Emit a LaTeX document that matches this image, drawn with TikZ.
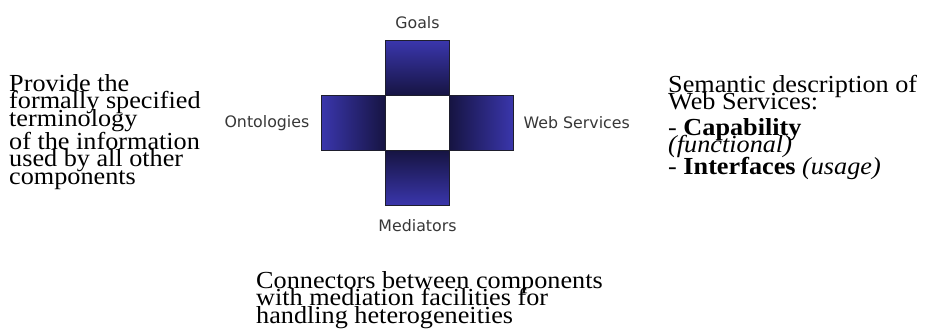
\documentclass[tikz,border=0pt]{standalone}
\usepackage{fontspec}
\setmainfont[FakeStretch=1.07]{Liberation Serif}
\newfontfamily\partfont{DejaVu Sans}
\usetikzlibrary{positioning}

\definecolor{crosslight}{RGB}{58,54,172}
\definecolor{crossdark}{RGB}{22,20,66}
\definecolor{crossedge}{RGB}{30,30,45}
\definecolor{partgray}{RGB}{55,55,55}

\tikzset{
  crossbox/.style={draw=crossedge, line width=0.6pt, minimum width=64pt,
    minimum height=55pt, inner sep=0pt, outer sep=0pt},
  partlabel/.style={font=\partfont\fontsize{15.8}{16}\selectfont,
    text=partgray, inner sep=0pt},
  noteline/.style={font=\fontsize{24.5}{17.5}\selectfont,
    inner sep=0pt, anchor=base west},
}

\begin{document}
\begin{tikzpicture}[x=1pt,y=1pt,yscale=-1]
\useasboundingbox (0,0) rectangle (926,335);

% the four parts round the core
\node[crossbox, fill=white] (core) at (417.5,123) {};
\node[crossbox, top color=crosslight, bottom color=crossdark,
  above=0pt of core] (goalsbox) {};
\node[crossbox, top color=crossdark, bottom color=crosslight,
  below=0pt of core] (mediatorsbox) {};
\node[crossbox, left color=crosslight, right color=crossdark,
  left=0pt of core] (ontologiesbox) {};
\node[crossbox, left color=crossdark, right color=crosslight,
  right=0pt of core] (webservicesbox) {};
\draw[crossedge, line width=0.6pt] (core.north west) rectangle (core.south east);

% part names
\node[partlabel, above=12pt of goalsbox] (goals) {Goals};
\node[partlabel, below=14pt of mediatorsbox] (mediators) {Mediators};
\node[partlabel, left=12pt of ontologiesbox] (ontologies) {Ontologies};
\node[partlabel, right=10pt of webservicesbox] (webservices) {Web Services};

% notes, one node per line
\foreach \ybase/\txt [count=\i] in {91/Provide the, 108.5/formally specified,
    126/terminology, 149/of the information, 166.5/used by all other,
    184/components}
  \node[noteline] (ontologynote-\i) at (9,\ybase) {\txt};
\foreach \ybase/\txt [count=\i] in {92/Semantic description of,
    109/Web Services:, 135/- \textbf{Capability}, 152/\textit{(functional)},
    174/- \textbf{Interfaces} \textit{(usage)}}
  \node[noteline] (servicenote-\i) at (668,\ybase) {\txt};
\foreach \ybase/\txt [count=\i] in {288/Connectors between components,
    305.5/with mediation facilities for, 323/handling heterogeneities}
  \node[noteline] (mediatornote-\i) at (256,\ybase) {\txt};
\end{tikzpicture}
\end{document}
